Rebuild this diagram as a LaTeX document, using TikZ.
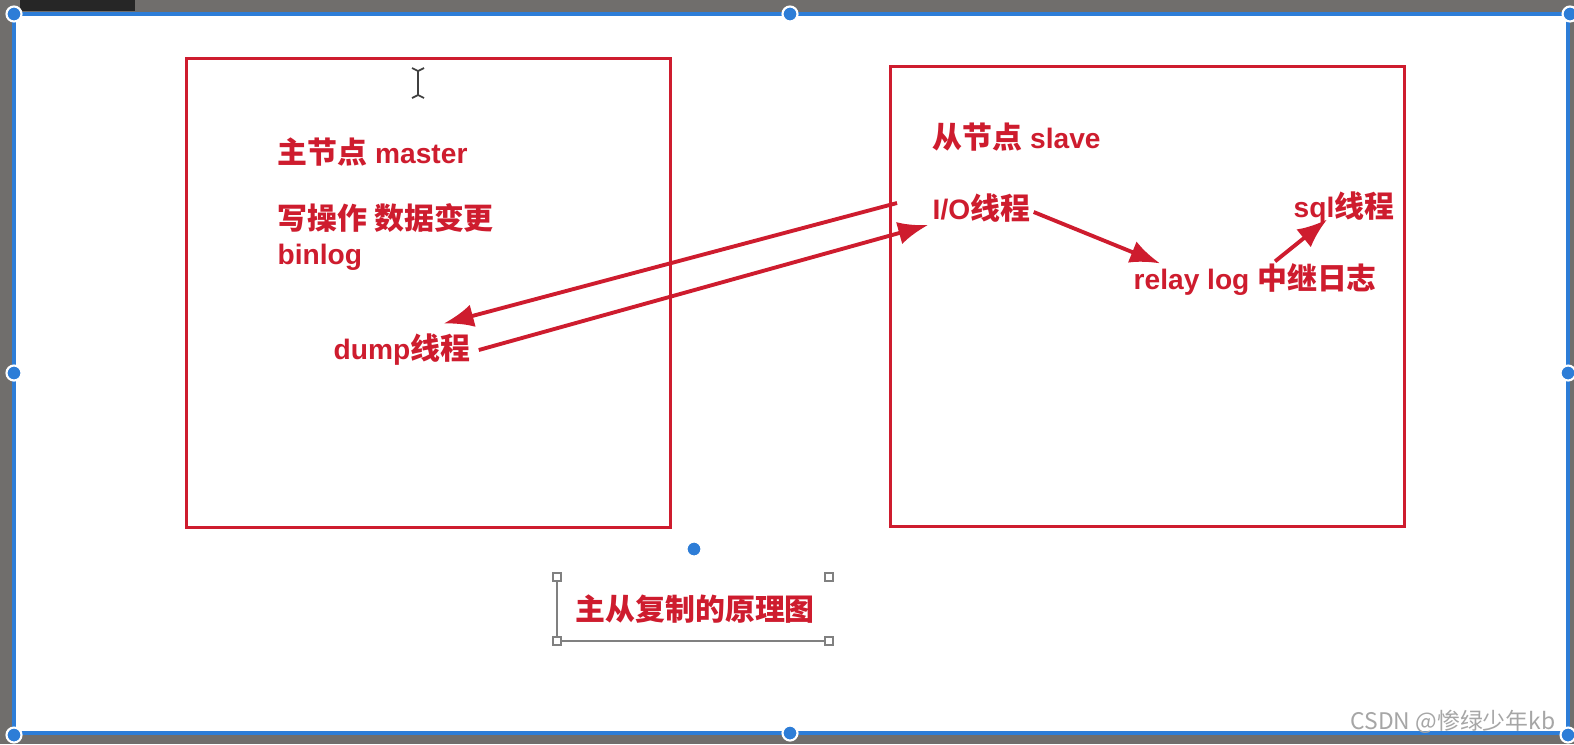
\documentclass[tikz,border=0pt]{standalone}
\usepackage{fontspec}
\setmainfont{Liberation Sans}
\newfontfamily\cjk{Noto Sans CJK SC}
\newcommand{\cjktext}[1]{{\cjk\bfseries\fontsize{8.5pt}{10pt}\selectfont #1}}
\usetikzlibrary{arrows.meta,positioning}

\definecolor{redline}{RGB}{206,28,46}
\definecolor{handleblue}{RGB}{45,125,215}
\definecolor{screengray}{RGB}{112,110,108}

\begin{document}
\begin{tikzpicture}
[x=0.01cm, y=-0.01cm, font=\fontsize{8pt}{10pt}\selectfont\bfseries,
% STYLES
box/.style={rectangle, draw=redline, line width=0.9pt, inner sep=0pt},
tag/.style={anchor=west, inner sep=0pt, text=redline},
flow/.style={-{Latex[length=8.5pt,width=6.5pt]}, draw=redline, line width=1.1pt},
knob/.style={circle, fill=handleblue, draw=white, line width=0.6pt, minimum size=0.15cm, inner sep=0pt},
corner/.style={rectangle, draw=gray, fill=white, line width=0.4pt, minimum size=0.08cm, inner sep=0pt}]

\useasboundingbox (0,0) rectangle (1574,744);
\clip (0,0) rectangle (1574,744);

% screen and selection frame
\fill[screengray] (0,0) rectangle (1574,744);
\fill[black!85] (20,0) rectangle (135,11);
\fill[white] (14,14) rectangle (1568,733);
\draw[handleblue, line width=1.1pt] (14,14) rectangle (1568,733);
\foreach \px/\py in {14/14, 790/14, 1570/14, 14/373, 1568/373, 14/735, 790/733, 1568/735}
  \node[knob] at (\px,\py) {};

% master
\node [box, minimum width=4.83cm, minimum height=4.68cm] (master) at (428.5,293) {};
\node [tag] (master-name) at (277,152) {\cjktext{主节点} master};
\node [tag] (master-write) at (277,218) {\cjktext{写操作 数据变更}};
\node [tag] (binlog) at (277,257) {binlog};
\node [tag] (dump) at (333,350) {dump\cjktext{线程}};

% slave
\node [box, minimum width=5.13cm, minimum height=4.59cm] (slave) at (1147.5,296.5) {};
\node [tag] (slave-name) at (932,137) {\cjktext{从节点} slave};
\node [tag] (io) at (932,208) {I/O\cjktext{线程}};
\node [tag] (relay) at (1133,280) {relay log \cjktext{中继日志}};
\node [tag] (sql) at (1293,208) {sql\cjktext{线程}};

% cursor
\draw[black!75, line width=0.5pt] (418,70) -- (418,96) (412,68) -- (418,71) -- (424,68) (412,98) -- (418,95) -- (424,98);

\draw[flow] ([shift={(-35,-5)}]io.west) -- ([shift={(-27,-10)}]dump.north east);
\draw[flow] ([shift={(8,0)}]dump.east) -- ([shift={(-4,17)}]io.west);
\draw[flow] ([shift={(3,4)}]io.east) -- ([shift={(27,0)}]relay.north west);
\draw[flow] ([shift={(142,-2)}]relay.north west) -- ([shift={(34,-5)}]sql.south west);

% caption with its text frame
\node [knob] (dot) at (694,549) {};
\node [tag] (caption) at (575,609) {\cjktext{主从复制的原理图}};
\node [corner] (c1) at (557,577) {};
\node [corner] (c2) at (829,577) {};
\node [corner] (c3) at (557,641) {};
\node [corner] (c4) at (829,641) {};
\draw[gray, line width=0.4pt] (c1) -- (c3) -- (c4);

\node [anchor=east, inner sep=0pt, text=black!35, font=\cjk\fontsize{6.5pt}{8pt}\selectfont] (mark) at (1556,722) {CSDN @惨绿少年kb};

\end{tikzpicture}
\end{document}
